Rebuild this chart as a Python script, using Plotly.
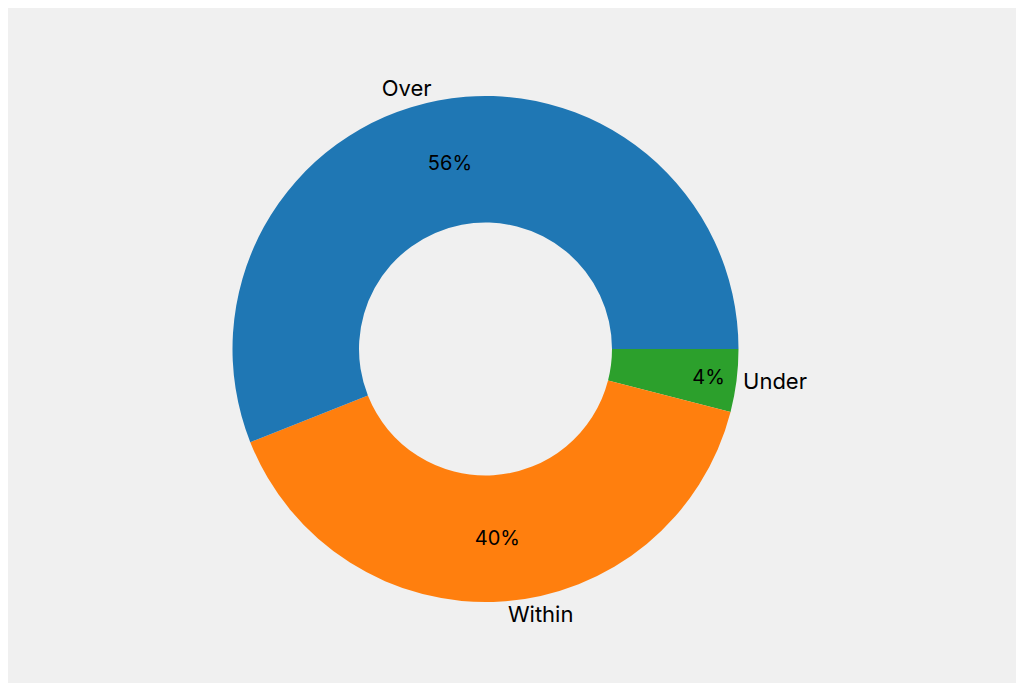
import plotly.graph_objects as go

labels = ['Over', 'Within', 'Under']
values = [56, 40, 4]
colors = ['#1f77b4', '#ff7f0e', '#2ca02c']

# drawn clockwise from 3 o'clock in reverse order, which reproduces the
# counterclockwise-from-0° layout of the reference
common = dict(labels=labels[::-1], values=values[::-1], hole=0.5, sort=False,
              direction='clockwise', rotation=90, showlegend=False)

fig = go.Figure()
fig.add_trace(go.Pie(**common, marker=dict(colors=colors[::-1]),
                     texttemplate='%{percent:.0%}', textposition='inside',
                     insidetextorientation='horizontal',
                     textfont=dict(color='black', size=20)))
fig.add_trace(go.Pie(**common, marker=dict(colors=['rgba(0,0,0,0)'] * 3),
                     texttemplate='%{label}', textposition='outside',
                     textfont=dict(color='black', size=22), hoverinfo='skip'))

fig.update_traces(outsidetextfont=dict(color='black'))
fig.update_layout(width=1024, height=683,
                  margin=dict(l=0, r=0, t=88, b=89),
                  paper_bgcolor='#f0f0f0', plot_bgcolor='#f0f0f0',
                  font=dict(family='Inter, Noto Sans, sans-serif'))
fig.write_html('out.html')
